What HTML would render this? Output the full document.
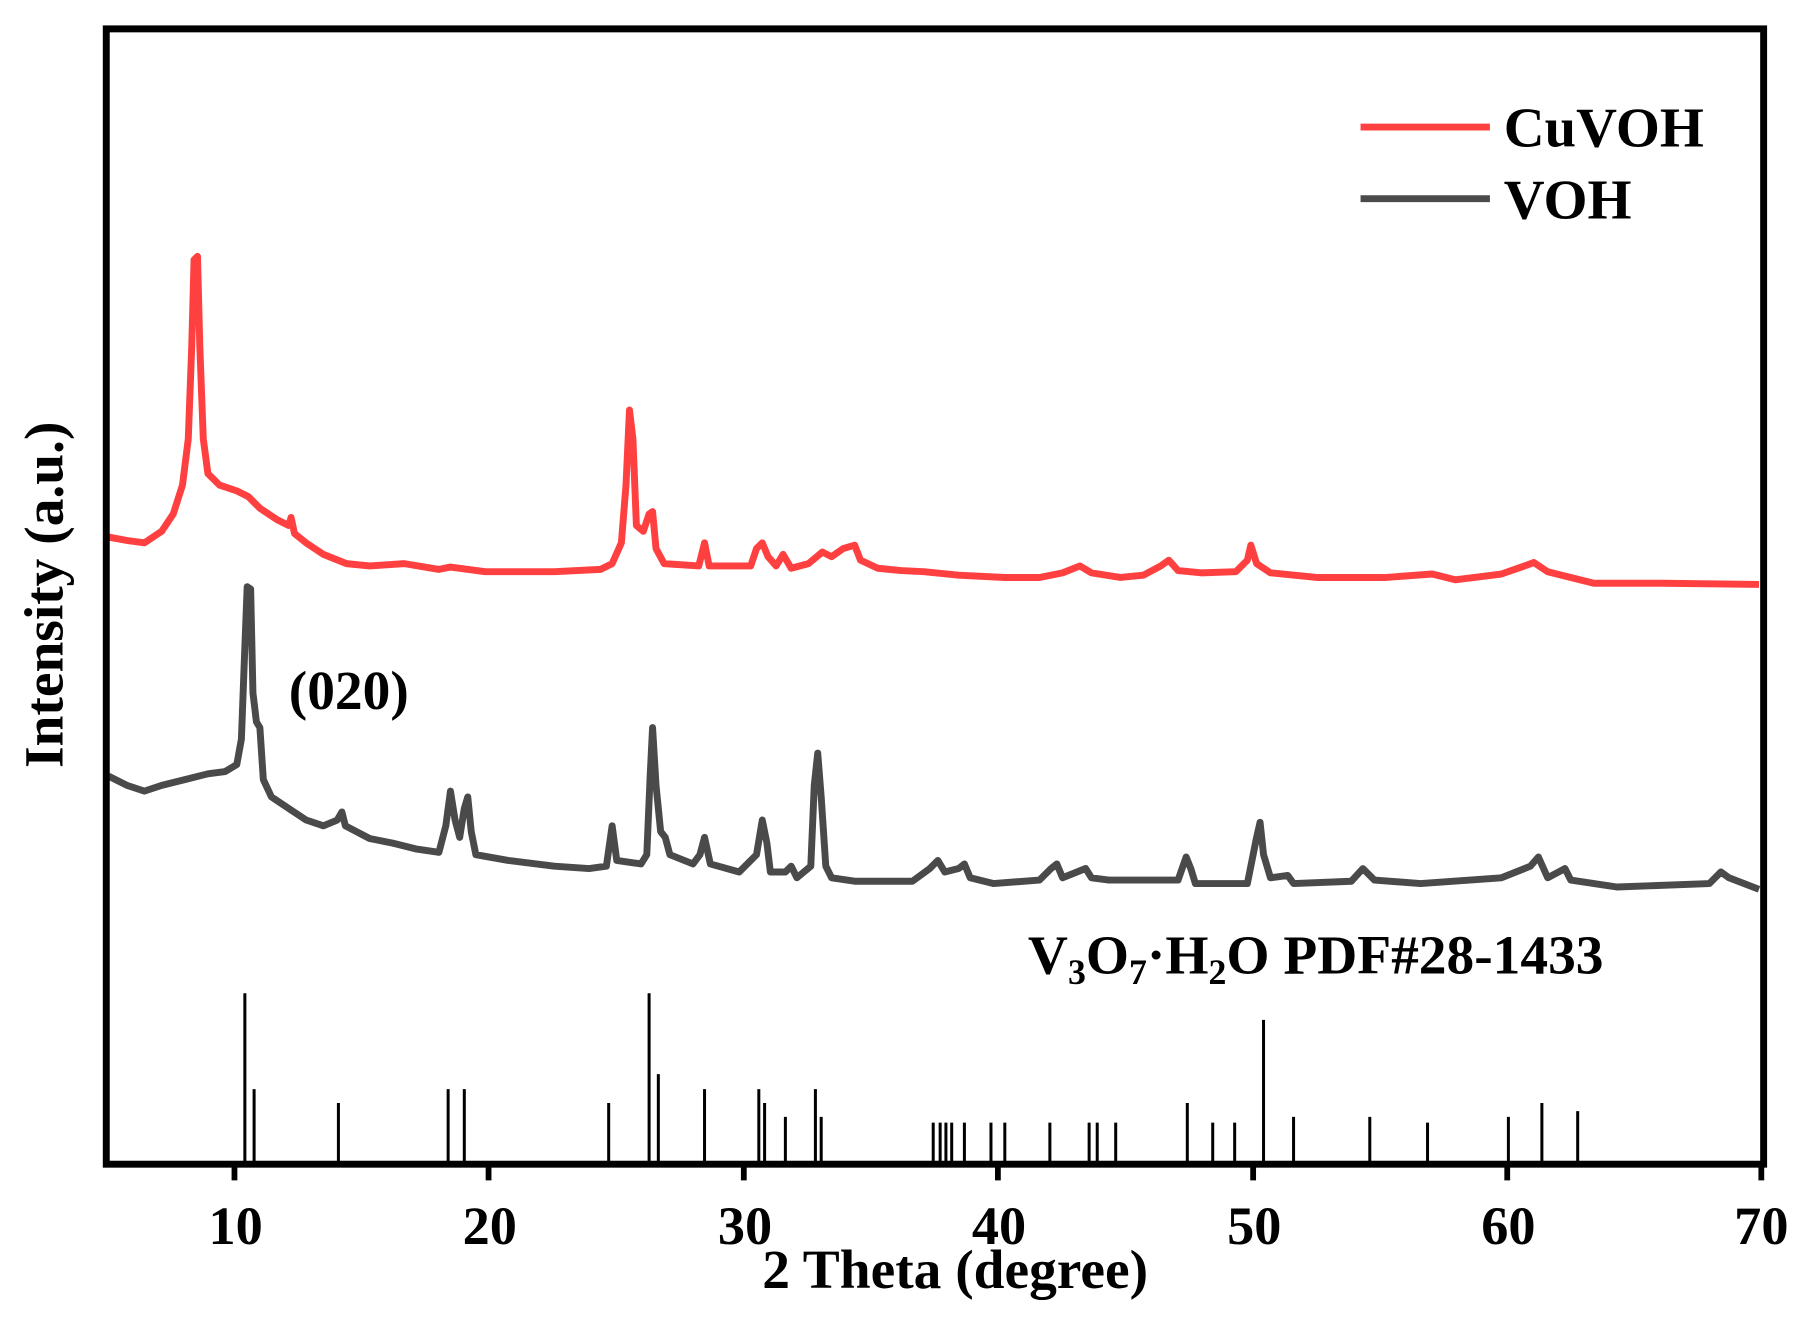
<!DOCTYPE html>
<html><head><meta charset="utf-8"><style>html,body{margin:0;padding:0;background:#fff}svg{display:block}</style></head><body>
<svg width="1811" height="1317" viewBox="0 0 1568 1140.3" xmlns="http://www.w3.org/2000/svg" font-family="'Liberation Serif',serif" font-weight="bold">
<rect width="1568" height="1141" fill="#fff"/>
<g stroke="#000" stroke-width="2.6">
<path d="M212 1008V860M220 1008V943M293 1008V955M388 1008V943M402 1008V943M527 1008V955M562 1008V860M570 1008V930M610 1008V943M657 1008V943M662 1008V955M680 1008V967M706 1008V943M711 1008V967M808 1008V972M814 1008V972M819 1008V972M824 1008V972M835 1008V972M858 1008V972M870 1008V972M909 1008V972M943 1008V972M950 1008V972M966 1008V972M1028 1008V955M1050 1008V972M1069 1008V972M1094 1008V883M1120 1008V967M1186 1008V967M1236 1008V972M1306 1008V967M1335 1008V955M1366 1008V962"/>
</g>
<polyline fill="none" stroke="#ff4040" stroke-width="6" stroke-linejoin="round" points="94,465 110,468 125,470 140,460 150,445 158,420 163,380 166,300 168,225 171,222 173,300 176,380 180,410 190,420 205,425 215,430 225,440 240,450 250,455 252,448 255,462 265,470 280,480 300,488 320,490 350,488 380,493 390,491 420,495 480,495 520,493 530,488 538,470 542,420 545,355 548,380 551,455 557,460 562,445 565,443 568,475 575,488 605,490 610,470 614,490 650,490 655,475 660,470 665,482 672,490 678,480 685,492 700,488 712,478 720,482 730,475 740,472 745,485 760,492 780,494 800,495 830,498 870,500 900,500 920,496 935,490 945,496 970,500 990,498 1005,490 1012,485 1020,494 1040,496 1070,495 1080,485 1083,472 1088,488 1100,496 1140,500 1200,500 1240,497 1260,502 1300,497 1320,490 1328,487 1340,495 1380,505 1440,505 1523,506"/>
<polyline fill="none" stroke="#4a4a4a" stroke-width="6" stroke-linejoin="round" points="94,672 110,680 125,685 140,680 160,675 180,670 195,668 205,662 209,640 212,560 214,508 217,510 219,600 222,625 225,630 228,675 235,690 250,700 265,710 280,715 292,710 296,703 299,715 320,726 340,730 360,735 380,738 386,715 390,685 394,710 398,725 402,700 405,690 408,720 412,740 440,745 480,750 510,752 525,750 530,715 534,745 555,748 560,740 563,670 565,630 568,680 572,720 576,725 580,740 600,748 606,740 610,725 615,748 640,755 655,740 660,710 664,730 667,755 680,755 685,750 690,760 702,750 705,680 708,652 711,690 715,750 720,760 740,763 790,763 805,752 812,745 818,755 830,752 835,748 840,760 860,765 900,762 910,752 915,748 920,760 940,752 945,760 960,762 1020,762 1027,742 1031,752 1035,765 1080,765 1088,725 1091,712 1094,740 1100,760 1115,758 1120,765 1170,763 1180,752 1190,762 1230,765 1300,760 1325,750 1332,742 1340,760 1355,752 1360,762 1400,768 1480,765 1490,755 1497,760 1523,770"/>
<rect x="92" y="25" width="1435" height="983" fill="none" stroke="#000" stroke-width="6"/>
<g stroke="#000" stroke-width="5">
<path d="M203 1008v14M423 1008v14M644 1008v14M864 1008v14M1085 1008v14M1305 1008v14M1525 1008v14"/>
</g>
<g font-size="47" text-anchor="middle" fill="#000">
<text x="204" y="1077">10</text><text x="424" y="1077">20</text><text x="645" y="1077">30</text><text x="865" y="1077">40</text><text x="1086" y="1077">50</text><text x="1306" y="1077">60</text><text x="1525" y="1077">70</text>
</g>
<text x="827" y="1115" font-size="48" text-anchor="middle">2 Theta (degree)</text>
<text transform="translate(54,515) rotate(-90)" font-size="48" text-anchor="middle">Intensity (a.u.)</text>
<line x1="1178" y1="110" x2="1290" y2="110" stroke="#ff4040" stroke-width="6"/>
<line x1="1178" y1="172" x2="1290" y2="172" stroke="#4a4a4a" stroke-width="6"/>
<text x="1302" y="127" font-size="49">CuVOH</text>
<text x="1302" y="189" font-size="49">VOH</text>
<text x="250" y="614" font-size="48">(020)</text>
<text x="890" y="843" font-size="48">V<tspan font-size="31" dy="9">3</tspan><tspan dy="-9">O</tspan><tspan font-size="31" dy="9">7</tspan><tspan dy="-9">·H</tspan><tspan font-size="31" dy="9">2</tspan><tspan dy="-9">O PDF#28-1433</tspan></text>
</svg>
</body></html>
